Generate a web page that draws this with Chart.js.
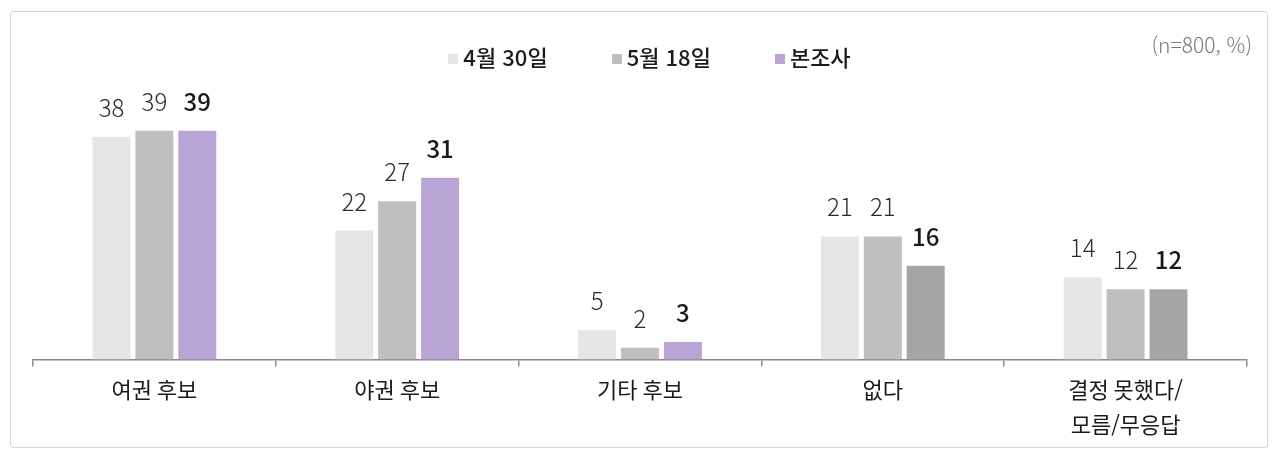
<!DOCTYPE html>
<html lang="ko">
<head>
<meta charset="utf-8">
<script src="https://cdn.jsdelivr.net/npm/chart.js@4.4.1/dist/chart.umd.min.js"></script>
<style>
    body { margin: 0; background: #fff; font-family: "Noto Sans CJK KR", "Noto Sans", sans-serif; }
    #wrap {
        position: absolute; left: 10px; top: 11px; width: 1258px; height: 437px;
        border: 1px solid #d6d6d6; border-radius: 3px; box-sizing: border-box;
    }
    #chartBox { position: absolute; left: 0; top: 0; right: 0; bottom: 0; }
    #legend {
        position: absolute; top: 28px; left: 0; right: 0; text-align: center;
        font-size: 22px; font-weight: 500; color: #1a1a1a; padding-left: 21px;
        line-height: 32px;
    }
    #legend span.item { display: inline-block; margin: 0 32px; }
    #legend span.box { display: inline-block; width: 10px; height: 10px; margin-right: 5px; vertical-align: 2px; }
    #note { position: absolute; right: 15px; top: 17px; font-size: 21px; color: #777; font-weight: 300; }
</style>
</head>
<body>
<div id="wrap">
    <div id="chartBox"><canvas id="pollChart"></canvas></div>
    <div id="legend"></div>
    <div id="note">(n=800, %)</div>
</div>
<script>
const categorias = ['여권 후보', '야권 후보', '기타 후보', '없다', ['결정 못했다/', '모름/무응답']];
const series = ['4월 30일', '5월 18일', '본조사'];
const abr30 = [38, 22, 5, 21, 14];
const mai18 = [39, 27, 2, 21, 12];
const bonjosa = [39, 31, 3, 16, 12];

const corAbr = '#e5e5e5';
const corMai = '#bfbfbf';
const corRoxo = '#b9a5d5';
const corCinza = '#a5a5a5';
const coresBonjosa = [corRoxo, corRoxo, corRoxo, corCinza, corCinza];

const fonte = '"Noto Sans CJK KR", "Noto Sans", sans-serif';

// rótulos de valor acima das barras
const valorPlugin = {
    id: 'valores',
    afterDatasetsDraw(chart) {
        const ctx = chart.ctx;
        chart.data.datasets.forEach((ds, i) => {
            const meta = chart.getDatasetMeta(i);
            ctx.save();
            ctx.font = (i === 2 ? '500 ' : '300 ') + '24px ' + fonte;
            ctx.fillStyle = i === 2 ? '#1a1a1a' : '#2a2a2a';
            ctx.textAlign = 'center';
            ctx.textBaseline = 'alphabetic';
            meta.data.forEach((bar, j) => {
                ctx.fillText(ds.data[j], bar.x, bar.y - 20);
            });
            ctx.restore();
        });
    }
};

const ctx = document.getElementById('pollChart').getContext('2d');
const pollChart = new Chart(ctx, {
    type: 'bar',
    data: {
        labels: categorias,
        datasets: [
            { label: series[0], data: abr30, backgroundColor: corAbr },
            { label: series[1], data: mai18, backgroundColor: corMai },
            { label: series[2], data: bonjosa, backgroundColor: coresBonjosa }
        ]
    },
    options: {
        responsive: true,
        maintainAspectRatio: false,
        animation: false,
        layout: { padding: { left: 22, right: 20, top: 66, bottom: 0 } },
        datasets: {
            bar: { categoryPercentage: 0.53, barPercentage: 0.885 }
        },
        plugins: {
            legend: { display: false },
            tooltip: { enabled: false }
        },
        scales: {
            y: { display: false, min: 0, max: 48 },
            x: {
                border: { color: '#8a8a8a', width: 1.5 },
                grid: { drawOnChartArea: false, color: '#8a8a8a', lineWidth: 1.5, tickLength: 7 },
                ticks: {
                    color: '#1a1a1a',
                    padding: 5,
                    font: { family: fonte, size: 22, lineHeight: 1.6 }
                }
            }
        }
    },
    plugins: [valorPlugin]
});

// legenda em HTML a partir dos datasets
const legendaEl = document.getElementById('legend');
pollChart.data.datasets.forEach(ds => {
    const cor = Array.isArray(ds.backgroundColor) ? ds.backgroundColor[0] : ds.backgroundColor;
    legendaEl.innerHTML += `<span class="item"><span class="box" style="background:${cor}"></span>${ds.label}</span>`;
});
</script>
</body>
</html>
